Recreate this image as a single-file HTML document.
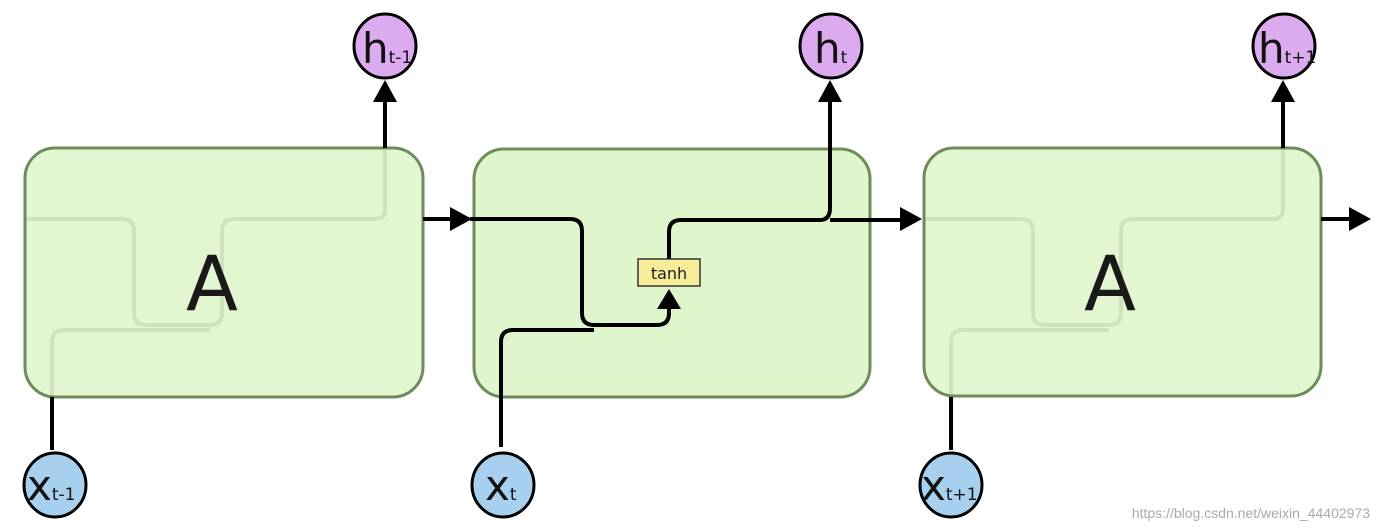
<!DOCTYPE html>
<html><head><meta charset="utf-8"><style>
html,body{margin:0;padding:0;background:#fff;width:1380px;height:532px;overflow:hidden}
svg{display:block}
</style></head><body>
<svg width="1380" height="532" viewBox="0 0 1380 532" xmlns="http://www.w3.org/2000/svg" font-family="'DejaVu Sans','Liberation Sans',sans-serif">
<!-- Box 1 -->
<g>
<path d="M25 219 H122 Q134 219 134 231 V313 Q134 325 146 325 H210 Q222 325 222 313 V231 Q222 219 234 219 H375 Q385 219 385 209 V148" fill="none" stroke="#000" stroke-width="4"/>
<path d="M52 397 V342 Q52 330 64 330 H210" fill="none" stroke="#000" stroke-width="4"/>
<rect x="25" y="148" width="398" height="249" rx="30" fill="#dff6cd" fill-opacity="0.92" stroke="#6e8c58" stroke-width="3"/>
<text x="212" y="310" font-size="76" text-anchor="middle" fill="#1a1a1a">A</text>
</g>
<!-- Box 3 -->
<g>
<path d="M924 219 H1021 Q1033 219 1033 231 V313 Q1033 325 1045 325 H1109 Q1121 325 1121 313 V231 Q1121 219 1133 219 H1273 Q1283 219 1283 209 V148" fill="none" stroke="#000" stroke-width="4"/>
<path d="M951 397 V342 Q951 330 963 330 H1109" fill="none" stroke="#000" stroke-width="4"/>
<rect x="924" y="148" width="397" height="248" rx="30" fill="#dff6cd" fill-opacity="0.92" stroke="#6e8c58" stroke-width="3"/>
<text x="1110" y="310" font-size="76" text-anchor="middle" fill="#1a1a1a">A</text>
</g>
<!-- Box 2 -->
<rect x="474" y="149" width="396" height="248" rx="30" fill="#dff6cd" stroke="#6e8c58" stroke-width="3"/>
<g fill="none" stroke="#000" stroke-width="4">
<path d="M423 219 H455"/>
<path d="M470 219 H570 Q582 219 582 231 V313 Q582 325 594 325 H657 Q669 325 669 313 V305"/>
<path d="M501 447 V342 Q501 330 513 330 H594"/>
<path d="M669 259 V232 Q669 220 681 220 H820 Q830 220 830 208 V98"/>
<path d="M830 220 H904"/>
<path d="M1321 219 H1352"/>
<path d="M385 148 V98"/>
<path d="M1283 148 V98"/>
<path d="M52 397 V450"/>
<path d="M951 397 V450"/>
</g>
<g fill="#000">
<polygon points="450,207 472,219 450,231"/>
<polygon points="900,207 922,219 900,231"/>
<polygon points="1349,207 1371,219 1349,231"/>
<polygon points="373,102 385,80 397,102"/>
<polygon points="818,102 830,80 842,102"/>
<polygon points="1271,102 1283,80 1295,102"/>
<polygon points="657,309 669,289 681,309"/>
</g>
<rect x="638" y="259" width="62" height="27" fill="#f6ec9a" stroke="#333" stroke-width="1.5"/>
<text x="669" y="279" font-size="16" text-anchor="middle" fill="#222">tanh</text>
<g stroke="#000" stroke-width="3" fill="#dcaaee">
<ellipse cx="385" cy="46" rx="31" ry="32"/>
<ellipse cx="831" cy="46" rx="31" ry="32"/>
<ellipse cx="1284" cy="46" rx="31" ry="32"/>
</g>
<g stroke="#000" stroke-width="3" fill="#a7cfee">
<ellipse cx="55" cy="485" rx="31" ry="32"/>
<ellipse cx="503" cy="485" rx="31" ry="32"/>
<ellipse cx="951" cy="485" rx="31" ry="32"/>
</g>
<g fill="#111">
<text x="362" y="63" font-size="42">h<tspan font-size="17">t-1</tspan></text>
<text x="814" y="63" font-size="42">h<tspan font-size="17">t</tspan></text>
<text x="1258" y="63" font-size="42">h<tspan font-size="17">t+1</tspan></text>
<text x="27" y="500" font-size="42">x<tspan font-size="17">t-1</tspan></text>
<text x="485" y="500" font-size="42">x<tspan font-size="17">t</tspan></text>
<text x="921" y="500" font-size="42">x<tspan font-size="17">t+1</tspan></text>
</g>
<text x="1370" y="518" font-size="14" text-anchor="end" fill="#aaa" font-family="'Liberation Sans',sans-serif">https://blog.csdn.net/weixin_44402973</text>
</svg>
</body></html>
